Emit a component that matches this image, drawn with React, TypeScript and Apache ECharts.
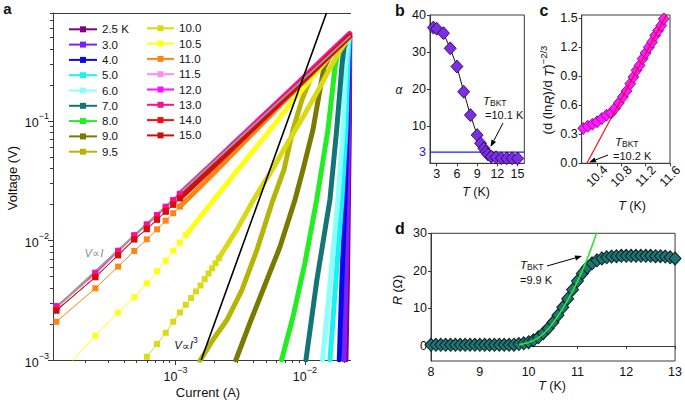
import React, { useEffect, useRef } from 'react';
import * as echarts from 'echarts';

const FONT = '"Liberation Sans", Arial, Helvetica, sans-serif';

// ---------------- Panel a : V–I curves ----------------
const tempLabels = ['2.5 K', '3.0', '4.0', '5.0', '6.0', '7.0', '8.0', '9.0', '9.5', '10.0', '10.5', '11.0', '11.5', '12.0', '13.0', '14.0', '15.0'];
const tempColors = ['#80007f', '#7f1fff', '#0808e8', '#18f2f2', '#8cffff', '#137575', '#22ee22', '#7a7a00', '#b5b508', '#dada14', '#ffff14', '#ff8414', '#ff8cf0', '#ff10ff', '#ff1088', '#ff0a0a', '#cc1010'];

// [current (A), voltage (V)]
const v25 = [[0.02075, 0.001], [0.02131, 0.0047], [0.0217, 0.022], [0.02208, 0.1], [0.0222, 0.5]];
const v30 = [[0.02003, 0.001], [0.02075, 0.0047], [0.02131, 0.022], [0.0217, 0.084], [0.02208, 0.32], [0.0222, 0.51]];
const v40 = [[0.01842, 0.001], [0.01933, 0.0047], [0.02039, 0.022], [0.02113, 0.084], [0.0217, 0.32], [0.02208, 0.5]];
const v50 = [[0.01561, 0.001], [0.01737, 0.0047], [0.01933, 0.022], [0.02075, 0.084], [0.02151, 0.32], [0.02208, 0.5]];
const v60 = [[0.0137, 0.001], [0.01575, 0.0047], [0.018, 0.022], [0.01968, 0.084], [0.02057, 0.267], [0.02131, 0.43], [0.02189, 0.515]];
const v70 = [[0.01018, 0.001], [0.01238, 0.0047], [0.01561, 0.022], [0.01759, 0.084], [0.01865, 0.182], [0.01933, 0.294], [0.02003, 0.408], [0.02113, 0.495], [0.02189, 0.52]];
const v80 = [[0.0066, 0.001], [0.00808, 0.00229], [0.01, 0.00648], [0.01232, 0.0218], [0.01306, 0.0321], [0.01506, 0.0841], [0.01617, 0.165], [0.01706, 0.278], [0.018, 0.378], [0.01933, 0.467], [0.02189, 0.52]];
const v90 = [[0.002926, 0.001], [0.003755, 0.00204], [0.004905, 0.00424], [0.006408, 0.00882], [0.00837, 0.0218], [0.00965, 0.0389], [0.01153, 0.0841], [0.01306, 0.182], [0.01402, 0.278], [0.01561, 0.35], [0.01865, 0.428], [0.02189, 0.506]];
const v95 = [[0.001541, 0.00098], [0.001943, 0.00147], [0.002493, 0.00216], [0.003257, 0.00385], [0.004254, 0.00833], [0.005656, 0.0218], [0.006881, 0.0389], [0.008076, 0.0841], [0.00948, 0.15], [0.01093, 0.22], [0.0126, 0.28], [0.01561, 0.356], [0.01865, 0.43], [0.02189, 0.505]];
const v100 = [[6.0e-4, 1.065e-3], [7.2e-4, 1.36e-3], [8.4e-4, 1.69e-3], [9.6e-4, 2.09e-3], [1.08e-3, 2.5e-3], [1.2e-3, 2.9e-3], [1.32e-3, 3.3e-3], [1.44e-3, 3.75e-3], [1.56e-3, 4.2e-3], [1.68e-3, 4.75e-3], [1.8e-3, 5.3e-3], [1.92e-3, 5.85e-3], [2.04e-3, 6.45e-3], [2.16e-3, 7.1e-3], [3.0e-3, 0.0125], [4.0e-3, 0.0218], [5.5e-3, 0.038], [7.5e-3, 0.068], [0.01, 0.115], [0.013, 0.19], [0.016, 0.29], [0.019, 0.4], [0.0222, 0.51]];
const v105 = [[1.2e-4, 7.0e-4], [2.4e-4, 1.6e-3], [3.6e-4, 2.49e-3], [4.8e-4, 3.35e-3], [6.0e-4, 4.38e-3], [7.2e-4, 5.52e-3], [8.4e-4, 6.77e-3], [9.6e-4, 8.22e-3], [1.08e-3, 9.6e-3], [1.2e-3, 1.11e-2], [1.32e-3, 1.26e-2], [1.44e-3, 1.42e-2], [2e-3, 0.0222], [3e-3, 0.0385], [4.5e-3, 0.066], [6.2e-3, 0.102], [8.5e-3, 0.158], [0.011, 0.222], [0.0135, 0.29], [0.016, 0.36], [0.019, 0.435], [0.0222, 0.51]];
const v110 = [[1.2e-4, 2.09e-3], [2.4e-4, 3.98e-3], [3.6e-4, 6.04e-3], [4.8e-4, 8.17e-3], [6.0e-4, 1.023e-2], [7.2e-4, 1.24e-2], [8.4e-4, 1.465e-2], [9.6e-4, 1.69e-2], [1.08e-3, 1.92e-2], [2e-3, 0.037], [4e-3, 0.08], [8e-3, 0.172], [0.0135, 0.302], [0.0222, 0.51]];
const v115 = [[1.2e-4, 2.72e-3], [2.4e-4, 5.2e-3], [3.6e-4, 7.95e-3], [4.8e-4, 1.075e-2], [6.0e-4, 1.33e-2], [7.2e-4, 1.59e-2], [8.4e-4, 1.86e-2], [9.6e-4, 2.12e-2], [1.08e-3, 2.39e-2], [2e-3, 0.0446], [4e-3, 0.091], [8e-3, 0.184], [0.0135, 0.318], [0.0222, 0.53]];
const v120 = [[1.2e-4, 2.83e-3], [2.4e-4, 5.38e-3], [3.6e-4, 8.21e-3], [4.8e-4, 1.11e-2], [6.0e-4, 1.366e-2], [7.2e-4, 1.634e-2], [8.4e-4, 1.918e-2], [9.6e-4, 2.18e-2], [1.08e-3, 2.46e-2], [2e-3, 0.0458], [4e-3, 0.093], [8e-3, 0.188], [0.0135, 0.325], [0.0222, 0.54]];
const v130 = [[1.2e-4, 2.78e-3], [2.4e-4, 5.3e-3], [3.6e-4, 8.1e-3], [4.8e-4, 1.095e-2], [6.0e-4, 1.35e-2], [7.2e-4, 1.615e-2], [8.4e-4, 1.89e-2], [9.6e-4, 2.15e-2], [1.08e-3, 2.43e-2], [2e-3, 0.0452], [4e-3, 0.092], [8e-3, 0.186], [0.0135, 0.322], [0.0222, 0.535]];
const v140 = [[1.2e-4, 2.62e-3], [2.4e-4, 4.92e-3], [3.6e-4, 7.56e-3], [4.8e-4, 1.023e-2], [6.0e-4, 1.241e-2], [7.2e-4, 1.5e-2], [8.4e-4, 1.74e-2], [9.6e-4, 2.0e-2], [1.08e-3, 2.26e-2], [2e-3, 0.0425], [4e-3, 0.087], [8e-3, 0.178], [0.0135, 0.306], [0.0222, 0.515]];
const v150 = [[1.2e-4, 2.58e-3], [2.4e-4, 4.95e-3], [3.6e-4, 7.5e-3], [4.8e-4, 1.02e-2], [6.0e-4, 1.25e-2], [7.2e-4, 1.49e-2], [8.4e-4, 1.75e-2], [9.6e-4, 1.99e-2], [1.08e-3, 2.25e-2], [2e-3, 0.0424], [4e-3, 0.0868], [8e-3, 0.177], [0.0135, 0.305], [0.0222, 0.512]];
const ivSets = [v25, v30, v40, v50, v60, v70, v80, v90, v95, v100, v105, v110, v115, v120, v130, v140, v150];
// current above which the measured points merge into a continuous band
const denseFrom = [0, 0, 0, 0, 0, 0, 0, 0, 0, 2.16e-3, 1.2e-3, 1.08e-3, 1.08e-3, 1.08e-3, 1.08e-3, 1.08e-3, 1.08e-3];
const ohmicLine = [[1.13e-4, 2.6e-3], [0.0225, 0.5175]];
const cubicLine = [[1.58e-3, 1e-3], [0.01467, 0.8]];
const aXRange = [1.13e-4, 0.0225];
const aYRange = [1e-3, 0.8];
const aXMajor = [1e-3, 1e-2];
const aXMinor = [2e-4, 3e-4, 4e-4, 5e-4, 6e-4, 7e-4, 8e-4, 9e-4, 2e-3, 3e-3, 4e-3, 5e-3, 6e-3, 7e-3, 8e-3, 9e-3, 2e-2];
const aYMajor = [1e-3, 1e-2, 1e-1];
const aYMinor = [2e-3, 3e-3, 4e-3, 5e-3, 6e-3, 7e-3, 8e-3, 9e-3, 2e-2, 3e-2, 4e-2, 5e-2, 6e-2, 7e-2, 8e-2, 9e-2, 0.2, 0.3, 0.4, 0.5, 0.6, 0.7, 0.8];

// ---------------- Panel b : alpha vs T ----------------
const bTemps = [2.5, 3, 4, 5, 6, 7, 8, 9, 9.5, 10, 10.3, 10.6, 11.1, 11.8, 12.6, 13.4, 14.2, 15];
const bAlpha = [36.6, 36.3, 35.1, 31.0, 26.1, 19.3, 13.0, 7.6, 5.4, 4.0, 3.1, 2.4, 1.8, 1.6, 1.35, 1.35, 1.35, 1.3];
const bThreshold = 3;
const bXTicks = [3, 6, 9, 12, 15];
const bYTicks = [0, 10, 20, 30, 40];
const bYLabels = [0, 3, 10, 20, 30, 40];

// ---------------- Panel c ----------------
const cTemps = [10.175, 10.25, 10.327, 10.403, 10.48, 10.556, 10.632, 10.693, 10.76, 10.826, 10.887, 10.948, 10.999, 11.05, 11.1, 11.15, 11.2, 11.254, 11.304, 11.356, 11.406, 11.457, 11.498];
const cVals = [0.36, 0.383, 0.404, 0.428, 0.462, 0.496, 0.52, 0.565, 0.623, 0.685, 0.746, 0.822, 0.89, 0.959, 1.01, 1.079, 1.137, 1.198, 1.25, 1.319, 1.37, 1.421, 1.49];
const cFit = [[10.235, 0], [11.55, 1.54]];
const cXTicks = [10.4, 10.8, 11.2, 11.6];
const cYTicks = [0, 0.3, 0.6, 0.9, 1.2, 1.5];

// ---------------- Panel d : R vs T ----------------
const dTemps = [8.0, 8.1, 8.2, 8.3, 8.4, 8.5, 8.6, 8.7, 8.8, 8.9, 9.0, 9.1, 9.2, 9.3, 9.4, 9.5, 9.6, 9.7, 9.8, 9.9, 10.0, 10.1, 10.2, 10.3, 10.4, 10.5, 10.6, 10.7, 10.8, 10.9, 11.0, 11.1, 11.2, 11.3, 11.4, 11.5, 11.6, 11.7, 11.8, 11.9, 12.0, 12.1, 12.2, 12.3, 12.4, 12.5, 12.6, 12.7, 12.8, 12.9, 13.0];
const dRes = [0.3, 0.3, 0.3, 0.3, 0.3, 0.3, 0.3, 0.3, 0.3, 0.3, 0.3, 0.3, 0.3, 0.3, 0.3, 0.3, 0.3, 0.35, 0.5, 0.7, 1.0, 1.5, 2.3, 3.4, 4.7, 6.3, 8.2, 10.3, 12.6, 15.0, 17.3, 19.3, 20.9, 22.0, 22.8, 23.3, 23.6, 23.8, 23.9, 24.0, 24.0, 24.0, 24.0, 24.0, 24.0, 24.0, 23.9, 23.9, 23.8, 23.6, 23.3];
const dFit = [[9.8, 0.3], [10.0, 0.9], [10.2, 2.2], [10.4, 4.5], [10.6, 8.0], [10.8, 12.2], [11.0, 17.2], [11.2, 23.2], [11.4, 30.3]];
const dYTicks = [0, 10, 20, 30];

const AX = '#3a3a3a';
const LBL = '#111';

function powLabel(v: number) {
  const e = Math.round(Math.log10(v));
  return `{b|10}{s|−${Math.abs(e)}}`;
}
const powRich = {
  b: { fontSize: 12.5, fontFamily: FONT, color: LBL, lineHeight: 18, verticalAlign: 'bottom' },
  s: { fontSize: 9, fontFamily: FONT, color: LBL, lineHeight: 8, verticalAlign: 'top' },
};

function txt(x: number, y: number, text: string, o: any = {}) {
  return {
    type: 'text', x, y, rotation: o.rotation || 0, z: 100, silent: true,
    style: {
      text, fill: o.fill || LBL, fontSize: o.fontSize || 12.5, fontFamily: FONT,
      fontWeight: o.fontWeight || 'normal', fontStyle: o.fontStyle || 'normal',
      align: o.align || 'center', verticalAlign: 'middle', rich: o.rich,
    },
  };
}

function arrow(x1: number, y1: number, x2: number, y2: number) {
  const ang = Math.atan2(y2 - y1, x2 - x1);
  const L = 7, W = 2.6;
  const bx = x2 - L * Math.cos(ang), by = y2 - L * Math.sin(ang);
  const px = -Math.sin(ang) * W, py = Math.cos(ang) * W;
  return [
    { type: 'line', z: 100, silent: true, shape: { x1, y1, x2: bx, y2: by }, style: { stroke: '#000', lineWidth: 1 } },
    { type: 'polygon', z: 100, silent: true, shape: { points: [[x2, y2], [bx + px, by + py], [bx - px, by - py]] }, style: { fill: '#000' } },
  ];
}

const it = (size: number, color = LBL) => ({ fontSize: size, fontFamily: FONT, fontStyle: 'italic', color, fill: color });
const nm = (size: number, color = LBL) => ({ fontSize: size, fontFamily: FONT, color, fill: color });
const bktRich = {
  i: { ...it(11.5), lineHeight: 13 },
  s: { ...nm(8.5), lineHeight: 8, verticalAlign: 'bottom' },
};

function buildOption() {
  const series: any[] = [];
  ivSets.forEach((pts, i) => {
    const c = tempColors[i];
    const d = denseFrom[i];
    series.push({
      type: 'line', name: tempLabels[i], xAxisIndex: 0, yAxisIndex: 0,
      data: pts.filter((p) => p[0] <= d),
      symbol: 'rect', symbolSize: 6, showSymbol: true, silent: true,
      lineStyle: { color: c, width: 1 }, itemStyle: { color: c },
    });
    series.push({
      type: 'line', name: tempLabels[i], xAxisIndex: 0, yAxisIndex: 0,
      data: pts.filter((p) => p[0] >= d),
      symbol: 'none', silent: true,
      lineStyle: { color: c, width: 5, join: 'round', cap: 'round' }, itemStyle: { color: c },
    });
  });
  series.push({ type: 'line', xAxisIndex: 0, yAxisIndex: 0, data: ohmicLine, symbol: 'none', silent: true, lineStyle: { color: '#9a9a9a', width: 2 } });
  series.push({ type: 'line', xAxisIndex: 0, yAxisIndex: 0, data: cubicLine, symbol: 'none', silent: true, lineStyle: { color: '#000', width: 1.6 } });

  // panel b
  series.push({ type: 'line', xAxisIndex: 3, yAxisIndex: 2, data: [[2, bThreshold], [16, bThreshold]], symbol: 'none', silent: true, lineStyle: { color: '#1a1aff', width: 1.2 } });
  series.push({
    type: 'line', xAxisIndex: 3, yAxisIndex: 2, data: bTemps.map((t, i) => [t, bAlpha[i]]),
    symbol: 'diamond', symbolSize: [12, 13], silent: true,
    lineStyle: { color: '#111', width: 1 }, itemStyle: { color: '#7b2ee6', borderColor: '#1a0033', borderWidth: 0.8 },
  });
  // panel c
  series.push({
    type: 'scatter', xAxisIndex: 4, yAxisIndex: 3, data: cTemps.map((t, i) => [t, cVals[i]]),
    symbol: 'diamond', symbolSize: [11, 12], silent: true,
    itemStyle: { color: '#ff1aff', borderColor: '#7a007a', borderWidth: 0.8, opacity: 1 },
  });
  series.push({ type: 'line', xAxisIndex: 4, yAxisIndex: 3, data: cFit, symbol: 'none', silent: true, lineStyle: { color: '#ee1111', width: 1.2 } });
  // panel d
  series.push({
    type: 'scatter', xAxisIndex: 5, yAxisIndex: 4, data: dTemps.map((t, i) => [t, dRes[i]]),
    symbol: 'diamond', symbolSize: [12, 13], silent: true,
    itemStyle: { color: '#1f7474', borderColor: '#0a2222', borderWidth: 1, opacity: 1 },
  });
  series.push({ type: 'line', xAxisIndex: 5, yAxisIndex: 4, data: dFit, symbol: 'none', smooth: 0.3, silent: true, lineStyle: { color: '#2ee62e', width: 1.6 } });

  const lineStyle = { color: AX, width: 1 };
  const lbl = { color: LBL, fontSize: 12.5, fontFamily: FONT };
  const noSplit = { show: false };

  const xAxis: any[] = [
    { gridIndex: 0, type: 'log', min: aXRange[0], max: aXRange[1], position: 'bottom', axisLine: { show: true, lineStyle }, axisTick: { show: true, length: 5, customValues: aXMajor, lineStyle }, axisLabel: { customValues: aXMajor, formatter: powLabel, rich: powRich, margin: 5 }, splitLine: noSplit },
    { gridIndex: 0, type: 'log', min: aXRange[0], max: aXRange[1], position: 'bottom', axisLine: { show: false }, axisTick: { show: true, length: 3, customValues: aXMinor, lineStyle }, axisLabel: { show: false }, splitLine: noSplit },
    { gridIndex: 0, type: 'log', min: aXRange[0], max: aXRange[1], position: 'top', axisLine: { show: true, lineStyle }, axisTick: { show: false }, axisLabel: { show: false }, splitLine: noSplit },
    { gridIndex: 1, type: 'value', min: 2, max: 16, axisLine: { lineStyle }, axisTick: { customValues: bXTicks, length: 3, lineStyle }, axisLabel: { ...lbl, customValues: bXTicks, margin: 4 }, splitLine: noSplit },
    { gridIndex: 2, type: 'value', min: 10.15, max: 11.6, axisLine: { lineStyle }, axisTick: { customValues: cXTicks, length: 3, lineStyle }, axisLabel: { ...lbl, customValues: cXTicks, rotate: 45, align: 'center', verticalAlign: 'middle', margin: 13, formatter: (v: number) => v.toFixed(1) }, splitLine: noSplit },
    { gridIndex: 3, type: 'value', min: 8, max: 13, interval: 1, axisLine: { lineStyle }, axisTick: { length: 3, lineStyle }, axisLabel: { ...lbl, margin: 4 }, splitLine: noSplit },
  ];
  const yAxis: any[] = [
    { gridIndex: 0, type: 'log', min: aYRange[0], max: aYRange[1], position: 'left', axisLine: { show: true, lineStyle }, axisTick: { show: true, length: 5, customValues: aYMajor, lineStyle }, axisLabel: { customValues: aYMajor, formatter: powLabel, rich: powRich, margin: 4 }, splitLine: noSplit },
    { gridIndex: 0, type: 'log', min: aYRange[0], max: aYRange[1], position: 'left', axisLine: { show: false }, axisTick: { show: true, length: 3, customValues: aYMinor, lineStyle }, axisLabel: { show: false }, splitLine: noSplit },
    { gridIndex: 1, type: 'value', min: 0, max: 40, axisLine: { lineStyle }, axisTick: { customValues: bYTicks, length: 3, lineStyle }, axisLabel: { ...lbl, customValues: bYLabels, margin: 4, formatter: (v: number) => (v === bThreshold ? `{blue|${v}}` : `${v}`), rich: { blue: { ...nm(12.5, '#1a1aff') } } }, splitLine: noSplit },
    { gridIndex: 2, type: 'value', min: 0, max: 1.53, axisLine: { lineStyle }, axisTick: { customValues: cYTicks, length: 3, lineStyle }, axisLabel: { ...lbl, customValues: cYTicks, margin: 4, formatter: (v: number) => v.toFixed(1) }, splitLine: noSplit },
    { gridIndex: 3, type: 'value', min: -4, max: 30, axisLine: { lineStyle }, axisTick: { customValues: dYTicks, length: 3, lineStyle }, axisLabel: { ...lbl, customValues: dYTicks, margin: 4 }, splitLine: noSplit },
  ];

  const grid = [
    { left: 53, top: 13, width: 297.5, height: 347, show: false },
    { left: 430, top: 15, width: 94.3, height: 148.3, show: true, borderColor: AX, borderWidth: 1, backgroundColor: 'transparent' },
    { left: 581.7, top: 15, width: 95, height: 148.3, show: true, borderColor: AX, borderWidth: 1, backgroundColor: 'transparent' },
    { left: 431, top: 233.3, width: 247.3, height: 127.7, show: true, borderColor: AX, borderWidth: 1, backgroundColor: 'transparent' },
  ];

  const legendBase = {
    orient: 'vertical', padding: 0, itemGap: 3.3, itemHeight: 7.5, selectedMode: false,
    textStyle: { fontSize: 11.5, lineHeight: 12, fontFamily: FONT, color: LBL },
  };
  const legend = [
    { ...legendBase, data: tempLabels.slice(0, 9), left: 68, top: 23.3, itemWidth: 28 },
    { ...legendBase, data: tempLabels.slice(9), left: 146, top: 22.3, itemWidth: 27 },
  ];

  const graphic: any[] = [
    txt(7.5, 8.5, 'a', { fontSize: 15, fontWeight: 'bold' }),
    txt(400, 10, 'b', { fontSize: 16, fontWeight: 'bold' }),
    txt(544, 10, 'c', { fontSize: 16, fontWeight: 'bold' }),
    txt(400, 228, 'd', { fontSize: 16, fontWeight: 'bold' }),
    txt(12, 178, 'Voltage (V)', { fontSize: 13, rotation: Math.PI / 2 }),
    txt(208, 392, 'Current (A)', { fontSize: 13 }),
    txt(94, 253, '{i|V}{n|∝}{i|I}', { fontSize: 11, rich: { i: it(11.5, '#8c8c8c'), n: nm(11, '#8c8c8c') } }),
    txt(186, 343, '{i|V}{n|∝}{i|I}{s|3}', { fontSize: 11, rich: { i: { ...it(11.5), lineHeight: 16, verticalAlign: 'bottom' }, n: { ...nm(11), lineHeight: 16, verticalAlign: 'bottom' }, s: { ...nm(8.5), lineHeight: 9, verticalAlign: 'top' } } }),
    txt(399, 90, 'α', { fontSize: 12, fontStyle: 'italic' }),
    txt(476, 192, '{i|T} (K)', { rich: { i: it(12.5), n: nm(12.5) } }),
    txt(483, 101, '{i|T}{s|BKT}', { align: 'left', rich: bktRich }),
    txt(485, 115, '=10.1 K', { align: 'left', fontSize: 11 }),
    ...arrow(503, 123, 490.5, 147),
    txt(547, 90, '(d (ln{i|R})/d {i|T}){s|−2/3}', { fontSize: 13, rotation: Math.PI / 2, rich: { i: { ...it(13), lineHeight: 18, verticalAlign: 'bottom' }, s: { ...nm(9.5), lineHeight: 8, verticalAlign: 'top' } } }),
    txt(632, 206, '{i|T} (K)', { rich: { i: it(12.5) } }),
    txt(615, 142, '{i|T}{s|BKT}', { align: 'left', rich: bktRich }),
    txt(613, 156, '=10.2 K', { align: 'left', fontSize: 11 }),
    ...arrow(608, 155, 589, 162.5),
    txt(398, 290, '{i|R} (Ω)', { rotation: Math.PI / 2, rich: { i: it(12.5) } }),
    txt(552, 386, '{i|T} (K)', { rich: { i: it(12.5) } }),
    txt(520, 265, '{i|T}{s|BKT}', { align: 'left', rich: bktRich }),
    txt(520, 280, '=9.9 K', { align: 'left', fontSize: 11 }),
    ...arrow(547, 266, 582, 256),
  ];

  return {
    animation: false,
    backgroundColor: '#fff',
    textStyle: { fontFamily: FONT },
    grid, xAxis, yAxis, legend, series, graphic,
  };
}

export default function App() {
  const ref = useRef<HTMLDivElement>(null);
  useEffect(() => {
    const chart = echarts.init(ref.current as HTMLDivElement, null, { renderer: 'svg' });
    chart.setOption(buildOption() as any);
    return () => chart.dispose();
  }, []);
  return <div ref={ref} style={{ position: 'absolute', left: 0, top: 0, width: 685, height: 400, background: '#fff' }} />;
}
